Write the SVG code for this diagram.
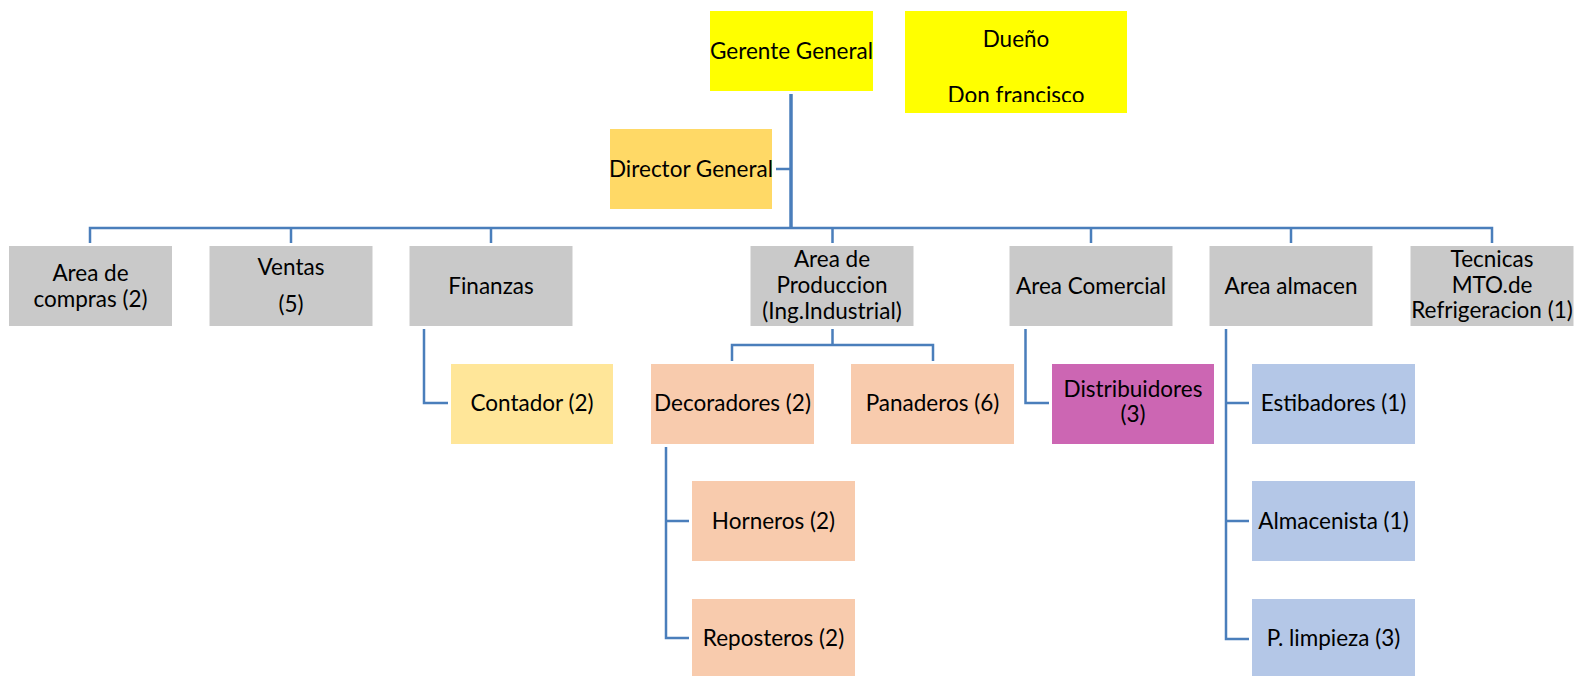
<svg xmlns="http://www.w3.org/2000/svg" width="1584" height="676" viewBox="0 0 1584 676">
<style>
text{font-family:Lato,"Liberation Sans",sans-serif;font-size:22.5px;fill:#000;text-anchor:middle}
.y{fill:#ffff00}.dg{fill:#ffd966}.g{fill:#c9c9c9}.ct{fill:#ffe699}.pe{fill:#f8cbad}.mg{fill:#cc66b3}.bl{fill:#b4c7e7}
.ln{fill:none;stroke:#4a7ebb;stroke-width:2.5}
</style>
<defs><clipPath id="cd"><rect x="905" y="11" width="222" height="91"/></clipPath></defs>
<g id="connectors">
<path class="ln" style="stroke-width:3.5" d="M791,94V228"/>
<path class="ln" d="M776,169H791"/>
<path class="ln" d="M90,243V228H1492V243M291,228V243M491,228V243M832.5,228V243M1091,228V243M1291,228V243"/>
<path class="ln" d="M424,329V403H448"/>
<path class="ln" d="M832.5,329V345M732,361V345H933V361"/>
<path class="ln" d="M666,447V638H689M666,521H689"/>
<path class="ln" d="M1025.5,329V403H1049"/>
<path class="ln" d="M1226,329V639H1249M1226,403H1249M1226,521H1249"/>
</g>
<g id="gerente"><rect class="y" x="710" y="11" width="163" height="80"/><text x="791.5" y="58.5">Gerente General</text></g>
<g id="dueno"><rect class="y" x="905" y="11" width="222" height="102"/><g clip-path="url(#cd)"><text x="1016" y="47">Dueño</text><text x="1016" y="103">Don francisco</text></g></g>
<g id="director"><rect class="dg" x="610" y="129" width="162" height="80"/><text x="691" y="176.5">Director General</text></g>
<g id="compras"><rect class="g" x="9" y="246" width="163" height="80"/><text x="90.5" y="280.5">Area de</text><text x="90.5" y="306.5">compras (2)</text></g>
<g id="ventas"><rect class="g" x="209.5" y="246" width="163" height="80"/><text x="291" y="275">Ventas</text><text x="291" y="312">(5)</text></g>
<g id="finanzas"><rect class="g" x="409.5" y="246" width="163" height="80"/><text x="491" y="293.5">Finanzas</text></g>
<g id="produccion"><rect class="g" x="750.5" y="246" width="163" height="80"/><text x="832" y="267">Area de</text><text x="832" y="293">Produccion</text><text x="832" y="318.5">(Ing.Industrial)</text></g>
<g id="comercial"><rect class="g" x="1009.5" y="246" width="163" height="80"/><text x="1091" y="293.5">Area Comercial</text></g>
<g id="almacen"><rect class="g" x="1209.5" y="246" width="163" height="80"/><text x="1291" y="293.5">Area almacen</text></g>
<g id="tecnicas"><rect class="g" x="1410.5" y="246" width="163" height="80"/><text x="1492" y="267">Tecnicas</text><text x="1492" y="292.5">MTO.de</text><text x="1492" y="318">Refrigeracion (1)</text></g>
<g id="contador"><rect class="ct" x="451" y="364" width="162" height="80"/><text x="532" y="411">Contador (2)</text></g>
<g id="decoradores"><rect class="pe" x="651" y="364" width="163" height="80"/><text x="732.5" y="411">Decoradores (2)</text></g>
<g id="panaderos"><rect class="pe" x="851" y="364" width="163" height="80"/><text x="932.5" y="411">Panaderos (6)</text></g>
<g id="distribuidores"><rect class="mg" x="1052" y="364" width="162" height="80"/><text x="1133" y="397">Distribuidores</text><text x="1133" y="422">(3)</text></g>
<g id="estibadores"><rect class="bl" x="1252" y="364" width="163" height="80"/><text x="1333.5" y="411">Estibadores (1)</text></g>
<g id="horneros"><rect class="pe" x="692" y="481" width="163" height="80"/><text x="773.5" y="528.5">Horneros (2)</text></g>
<g id="almacenista"><rect class="bl" x="1252" y="481" width="163" height="80"/><text x="1333.5" y="528.5">Almacenista (1)</text></g>
<g id="reposteros"><rect class="pe" x="692" y="599" width="163" height="80"/><text x="773.5" y="646">Reposteros (2)</text></g>
<g id="limpieza"><rect class="bl" x="1252" y="599" width="163" height="80"/><text x="1333.5" y="646">P. limpieza (3)</text></g>
</svg>
